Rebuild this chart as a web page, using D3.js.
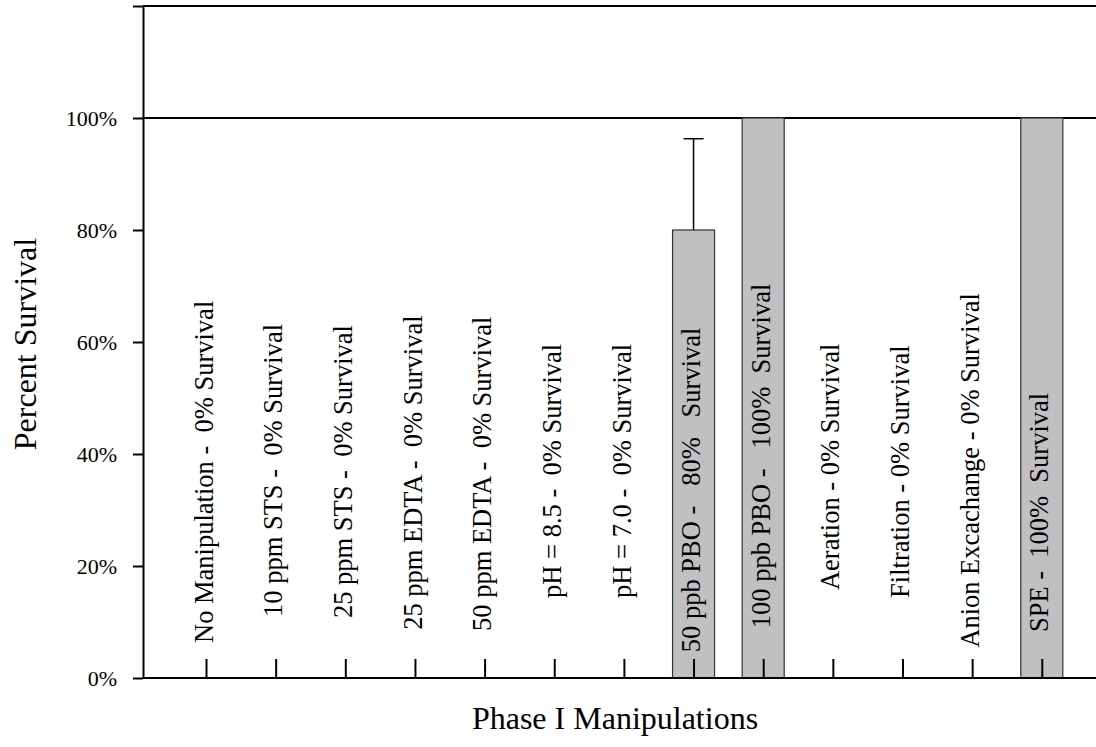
<!DOCTYPE html>
<html>
<head>
<meta charset="utf-8">
<script src="https://cdn.jsdelivr.net/npm/d3@7"></script>
<style>
  html, body { margin: 0; padding: 0; background: #fff; }
  svg { display: block; }
  text { font-family: "Liberation Serif", "Times New Roman", serif; fill: #000; white-space: pre; }
</style>
</head>
<body>
<svg id="chart" width="1096" height="747"></svg>
<script>
const categories = ["No Manipulation", "10 ppm STS", "25 ppm STS", "25 ppm EDTA", "50 ppm EDTA",
  "pH = 8.5", "pH = 7.0", "50 ppb PBO", "100 ppb PBO", "Aeration", "Filtration",
  "Anion Excachange", "SPE"];
const survival = [0, 0, 0, 0, 0, 0, 0, 80, 100, 0, 0, 0, 100];
const errorPlus = [0, 0, 0, 0, 0, 0, 0, 16.3, 0, 0, 0, 0, 0];
const barLabels = [
  "No Manipulation -  0% Survival",
  "10 ppm STS -  0% Survival",
  "25 ppm STS -  0% Survival",
  "25 ppm EDTA -  0% Survival",
  "50 ppm EDTA -  0% Survival",
  "pH = 8.5 -  0% Survival",
  "pH = 7.0 -  0% Survival",
  "50 ppb PBO -   80%   Survival",
  "100 ppb PBO -   100%  Survival",
  "Aeration - 0% Survival",
  "Filtration - 0% Survival",
  "Anion Excachange - 0% Survival",
  "SPE -  100%  Survival"
];
// label start positions (in axis units, %)
const labelStart = [6.25, 10.9, 10.7, 8.6, 8.4, 14.3, 14.3, 4.6, 8.9, 15.7, 14.3, 5.4, 8.2];
const yTicks = [0, 20, 40, 60, 80, 100, 120];

const svg = d3.select("#chart");
const axisX = 143, baseY = 678;

const x = d3.scalePoint().domain(categories).range([206, 1041.8]);
const y = d3.scaleLinear().domain([0, 120]).range([baseY, 6]);
const barW = 42;

// horizontal lines at 100% and 120%
[100, 120].forEach(v => {
  svg.append("line").attr("x1", axisX).attr("x2", 1096)
    .attr("y1", y(v)).attr("y2", y(v))
    .attr("stroke", "#000").attr("stroke-width", 2);
});

// bars
svg.append("g").selectAll("rect")
  .data(categories.map((c, i) => ({c, v: survival[i]})).filter(d => d.v > 0))
  .join("rect")
  .attr("x", d => x(d.c) - barW / 2)
  .attr("width", barW)
  .attr("y", d => y(d.v))
  .attr("height", d => y(0) - y(d.v))
  .attr("fill", "#c0c0c0")
  .attr("stroke", "#333").attr("stroke-width", 1.2);

// error bars
categories.forEach((c, i) => {
  if (errorPlus[i] > 0) {
    const cx = x(c);
    svg.append("line").attr("x1", cx).attr("x2", cx)
      .attr("y1", y(survival[i])).attr("y2", y(survival[i] + errorPlus[i]))
      .attr("stroke", "#000").attr("stroke-width", 1.5);
    svg.append("line").attr("x1", cx - 10).attr("x2", cx + 10)
      .attr("y1", y(survival[i] + errorPlus[i])).attr("y2", y(survival[i] + errorPlus[i]))
      .attr("stroke", "#000").attr("stroke-width", 1.5);
  }
});

// y axis
const yAxis = d3.axisLeft(y).tickValues(yTicks).tickSize(10).tickSizeOuter(0)
  .tickFormat(d => d === 120 ? "" : d + "%");
const gy = svg.append("g").attr("transform", `translate(${axisX},0)`).call(yAxis);
gy.select(".domain").attr("stroke", "#000").attr("stroke-width", 2);
gy.selectAll(".tick line").attr("stroke", "#000").attr("stroke-width", 2);
gy.selectAll(".tick text").attr("font-family", "Liberation Serif").attr("font-size", 22)
  .attr("x", -26).attr("dy", "0.34em");

// x axis
const xAxis = d3.axisBottom(x).tickSize(-19).tickSizeOuter(0).tickFormat("");
const gx = svg.append("g").attr("transform", `translate(0,${baseY})`).call(xAxis);
gx.select(".domain").attr("d", `M${axisX},0H1096`).attr("stroke", "#000").attr("stroke-width", 2);
gx.selectAll(".tick line").attr("stroke", "#000").attr("stroke-width", 2);

// bar labels (rotated)
svg.append("g").selectAll("text")
  .data(categories.map((c, i) => ({c, t: barLabels[i], s: labelStart[i]})))
  .join("text")
  .attr("transform", d => `translate(${x(d.c)},${y(d.s)}) rotate(-90)`)
  .attr("dy", "0.25em")
  .attr("font-size", 26.5)
  .text(d => d.t);

// axis titles
svg.append("text").attr("x", 615).attr("y", 729).attr("text-anchor", "middle")
  .attr("font-size", 32).text("Phase I Manipulations");
svg.append("text").attr("transform", `translate(36,344) rotate(-90)`).attr("text-anchor", "middle")
  .attr("font-size", 32).text("Percent Survival");
</script>
</body>
</html>
